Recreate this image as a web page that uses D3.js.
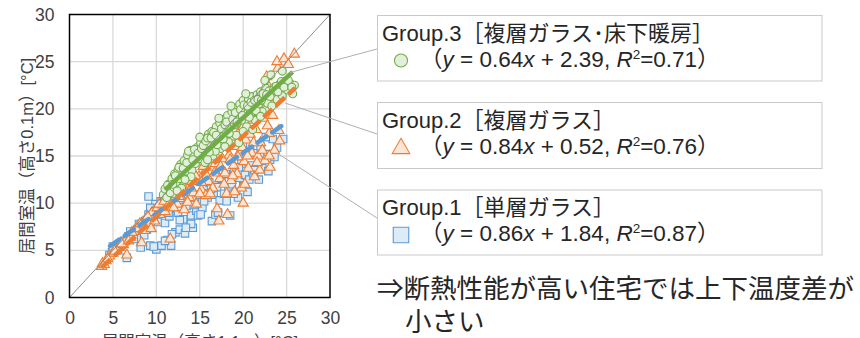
<!DOCTYPE html>
<html><head><meta charset="utf-8">
<script src="https://cdn.jsdelivr.net/npm/d3@7/dist/d3.min.js"></script>
<style>
body{margin:0;background:#fff;}
svg{display:block;}
text{font-family:"Liberation Sans","Noto Sans CJK JP",Arial,sans-serif;}
</style></head><body>
<svg id="c" width="860" height="338"></svg>
<script>
// ---- data ----
const xTicks = [0, 5, 10, 15, 20, 25, 30];
const yTicks = [0, 5, 10, 15, 20, 25, 30];
const group1 = [[4.6,4.5],[4.9,4.8],[5.3,5.2],[5.6,5.0],[6.0,5.6],[6.3,6.0],[6.6,4.2],[6.8,6.5],[7.2,6.8],[7.6,7.0],[7.9,6.3],[8.2,5.3],[8.3,7.6],[8.7,8.1],[8.9,7.2],[9.1,8.8],[9.3,5.5],[9.5,9.2],[9.1,10.7],[9.9,9.9],[10.0,5.1],[10.2,8.0],[10.5,10.2],[10.6,5.5],[10.8,9.3],[11.0,7.9],[11.3,6.1],[11.5,8.6],[11.7,5.5],[11.8,9.5],[11.9,12.2],[12.2,6.9],[12.4,12.9],[12.5,9.0],[12.7,7.2],[12.9,10.1],[13.1,8.3],[13.3,6.8],[13.5,9.7],[13.8,7.4],[14.0,8.7],[14.2,7.4],[14.4,10.4],[14.6,9.2],[14.8,8.7],[15.0,10.9],[15.3,9.5],[15.6,11.8],[15.9,10.6],[16.1,12.2],[16.4,8.1],[16.6,10.9],[16.8,8.8],[17.0,11.7],[17.3,10.3],[17.5,12.6],[17.8,11.0],[18.0,13.1],[18.3,11.4],[18.5,8.7],[18.7,12.0],[19.0,13.5],[19.2,11.2],[19.4,10.6],[19.6,12.7],[19.8,14.2],[20.0,11.8],[20.2,13.0],[20.4,15.1],[20.7,12.5],[21.0,14.0],[21.2,12.9],[21.5,15.3],[21.7,14.1],[22.0,16.0],[22.2,13.8],[22.4,15.0],[22.8,15.2],[23.1,14.6],[23.4,16.8],[23.9,15.9],[24.6,16.8],[22.6,17.0],[21.8,12.5],[20.8,16.2],[12.7,8.2],[11.8,6.7],[9.7,5.4],
  [5.0,5.4],[5.9,5.5],[7.0,7.0],[7.4,6.2],[8.0,7.8],[8.6,6.6],[9.3,9.5],[9.7,8.5],[10.3,9.2],[10.9,10.3],[11.4,9.0],[12.0,10.0],[12.8,9.6],[13.6,10.5],[14.3,9.8],[15.1,8.8],[15.5,10.2],[16.3,11.5],[17.1,9.0],[18.1,10.2],[18.9,11.0],[19.5,13.8],[20.5,11.2],[21.3,13.5],[22.1,14.5],[22.9,13.4],[23.6,14.9],[14.0,7.8],[13.4,7.4],[11.0,6.0]];
const group2 = [[3.7,3.3],[3.8,3.6],[4.2,3.9],[4.6,4.4],[5.0,4.7],[5.4,5.0],[5.8,5.3],[6.2,5.6],[6.5,6.2],[6.6,4.5],[7.0,6.4],[7.4,7.0],[7.9,7.6],[8.3,5.8],[8.5,8.0],[8.9,8.4],[9.2,7.7],[9.5,9.0],[9.8,8.1],[10.1,9.5],[10.4,8.8],[10.7,9.8],[11.0,9.1],[11.3,10.5],[11.6,6.2],[11.8,9.6],[12.1,10.9],[12.4,9.9],[12.7,11.4],[12.9,10.5],[13.2,9.3],[13.5,11.8],[13.8,10.6],[14.1,12.3],[14.3,11.1],[14.6,9.9],[14.9,12.8],[15.2,11.4],[15.5,13.2],[15.7,10.8],[16.0,12.3],[16.3,13.8],[16.5,11.6],[16.8,14.2],[17.0,9.4],[17.2,8.1],[17.3,12.6],[17.6,14.7],[17.9,13.2],[18.1,11.0],[18.2,8.8],[18.4,15.1],[18.6,12.4],[18.9,14.0],[19.1,16.0],[19.3,13.1],[19.6,15.4],[19.8,11.6],[20.0,10.0],[20.1,14.4],[20.3,16.7],[20.6,13.7],[20.8,17.3],[21.0,15.3],[21.3,12.8],[21.5,17.8],[21.7,15.0],[22.0,16.4],[22.3,19.0],[22.5,14.5],[22.7,23.4],[22.9,22.4],[23.0,17.4],[23.3,20.5],[23.6,15.6],[24.0,24.3],[23.9,25.0],[24.2,16.6],[24.3,22.5],[24.7,25.3],[25.2,24.7],[25.9,25.8],[19.5,17.5],[18.0,16.2],[16.9,15.0],[15.4,13.9],[21.1,18.8],[22.1,20.6],[20.2,12.0],[23.1,13.8],[21.9,13.5],
  [4.0,3.5],[4.4,4.1],[5.2,4.9],[6.0,5.7],[6.8,6.0],[7.2,6.9],[7.7,7.3],[8.1,7.8],[8.7,7.1],[9.0,8.6],[9.4,7.3],[10.3,9.9],[10.9,10.2],[11.5,10.0],[12.0,9.5],[12.6,10.7],[13.0,11.9],[13.6,10.1],[14.0,11.6],[14.5,12.9],[15.0,11.0],[15.8,12.9],[16.2,11.0],[16.7,13.2],[17.4,13.9],[17.8,12.0],[18.5,14.6],[18.8,12.9],[19.4,14.9],[19.9,15.9],[20.5,15.0],[21.2,16.4],[21.6,14.3],[22.2,15.6],[22.8,18.2],[23.4,19.3],[23.8,21.2],[24.1,17.7],[17.0,16.0],[18.6,17.0],[20.0,18.1],[21.6,19.6],[23.0,15.0],[19.0,11.2],[15.2,12.2]];
const group3 = [[10.8,10.9],[11.0,11.5],[11.2,10.6],[11.4,12.0],[11.6,11.1],[11.8,12.6],[12.0,11.7],[12.1,13.1],[12.3,12.2],[12.5,13.5],[12.7,12.6],[12.8,14.1],[13.0,13.0],[13.2,14.5],[13.4,13.4],[13.6,15.1],[13.8,14.0],[13.9,15.6],[14.1,13.5],[14.3,15.0],[14.5,14.2],[14.7,15.9],[14.9,14.7],[15.1,16.4],[15.3,15.2],[15.5,16.8],[15.6,14.3],[15.8,15.8],[16.0,17.3],[16.2,16.1],[16.4,17.6],[16.5,15.0],[16.7,16.6],[16.9,18.1],[17.1,16.9],[17.3,18.5],[17.4,15.8],[17.6,17.4],[17.8,18.9],[18.0,17.6],[18.2,19.3],[18.3,16.5],[18.5,18.1],[18.7,19.7],[18.9,20.1],[19.0,18.3],[19.2,17.2],[19.4,19.1],[19.6,20.5],[19.8,18.8],[20.0,20.9],[20.2,19.5],[20.4,18.1],[20.6,21.0],[20.8,19.9],[21.0,21.3],[21.2,20.2],[21.4,18.8],[21.6,21.5],[21.8,20.5],[22.0,21.8],[22.2,19.7],[22.4,21.1],[22.6,22.2],[22.8,20.6],[23.0,21.9],[23.3,20.3],[23.6,22.3],[23.9,21.0],[24.2,22.6],[24.5,21.4],[24.8,22.9],[25.1,22.0],[25.5,22.6],[25.7,21.6],[25.9,22.5],[14.0,12.8],[16.8,15.5],[19.5,16.4],[21.1,17.8],[12.9,11.6],[18.6,20.3],[17.2,19.0],[15.0,17.0],[22.5,23.0],[23.2,23.6],[20.3,21.6],[24.5,24.0],
  [11.3,11.9],[11.9,12.0],[12.2,12.9],[12.6,13.8],[13.1,13.7],[13.5,14.3],[13.7,15.5],[14.2,14.6],[14.4,15.7],[14.8,15.3],[15.2,15.8],[15.4,16.1],[15.7,16.6],[15.9,16.9],[16.1,15.4],[16.3,16.9],[16.6,17.5],[16.9,17.2],[17.0,16.2],[17.5,17.9],[17.7,16.8],[17.9,18.3],[18.1,18.6],[18.4,17.4],[18.8,18.9],[19.1,19.6],[19.3,18.6],[19.7,19.9],[19.9,19.3],[20.1,20.4],[20.5,20.3],[20.7,19.1],[20.9,20.7],[21.3,20.9],[21.5,19.8],[21.7,21.0],[22.1,20.9],[22.3,21.6],[22.7,21.5],[23.1,21.3],[23.5,22.0],[23.8,22.4],[24.0,21.8],[24.4,22.9],[24.7,22.3],[25.2,23.0],[25.6,22.3],[12.4,11.3],[13.3,12.5],[15.9,14.6],[17.9,16.0],[20.0,17.6],[22.0,19.2]];
// trendlines as drawn: slope, intercept, x-range
const trendSlope = [0.645, 0.855, 0.851];
const trendIntercept = [2.45, 0.0, 2.04];
const trendXStart = [4.67, 3.7, 11.0];
const trendXEnd = [24.4, 26.0, 25.7];
const legendTitles = ["Group.3［複層ガラス･床下暖房］", "Group.2［複層ガラス］", "Group.1［単層ガラス］"];
const legendSlopes = ["0.64", "0.84", "0.86"];
const legendIntercepts = ["2.39", "0.52", "1.84"];
const legendR2 = ["0.71", "0.76", "0.87"];
const xTitle = "居間室温（高さ1.1m）[°C]";
const yTitle = "居間室温（高さ0.1m）[°C]";
const note1 = "⇒断熱性能が高い住宅では上下温度差が";
const note2 = "小さい";

// ---- styles ----
const strokeCol = ["#5b9bd5", "#ed7d31", "#70ad47"];
const fillCol = ["#ddebf7", "#fbe5d6", "#e2efda"];
const symTypes = [d3.symbolSquare, d3.symbolTriangle, d3.symbolCircle];
const symSize = [56, 46, 50];

const svg = d3.select("#c");
const x = d3.scaleLinear().domain([0, 30]).range([69.5, 330]);
const y = d3.scaleLinear().domain([0, 30]).range([297.5, 14.5]);

// grid
svg.append("g").selectAll("line").data(xTicks.slice(1, -1)).join("line")
  .attr("x1", d => x(d)).attr("x2", d => x(d)).attr("y1", y(0)).attr("y2", y(30))
  .attr("stroke", "#d9d9d9").attr("stroke-width", 1.3);
svg.append("g").selectAll("line").data(yTicks.slice(1, -1)).join("line")
  .attr("y1", d => y(d)).attr("y2", d => y(d)).attr("x1", x(0)).attr("x2", x(30))
  .attr("stroke", "#d9d9d9").attr("stroke-width", 1.3);

// axes (labels only)
const xAxis = d3.axisBottom(x).tickValues(xTicks).tickSize(0).tickPadding(14);
const gx = svg.append("g").attr("transform", `translate(0,${y(0)})`).call(xAxis);
gx.select(".domain").remove();
gx.selectAll("text").attr("font-size", 17.5).attr("fill", "#404040")
  .attr("font-family", "Liberation Sans, Arial, sans-serif");
const yAxis = d3.axisLeft(y).tickValues(yTicks).tickSize(0).tickPadding(15);
const gy = svg.append("g").attr("transform", `translate(${x(0)},0)`).call(yAxis);
gy.select(".domain").remove();
gy.selectAll("text").attr("font-size", 17.5).attr("fill", "#404040")
  .attr("font-family", "Liberation Sans, Arial, sans-serif");

// markers
const groups = [group1, group2, group3];
groups.forEach((g, i) => {
  svg.append("g").selectAll("path").data(g).join("path")
    .attr("d", d3.symbol().type(symTypes[i]).size(symSize[i]))
    .attr("transform", d => `translate(${x(d[0])},${y(d[1])})`)
    .attr("fill", fillCol[i]).attr("stroke", strokeCol[i]).attr("stroke-width", 1.1);
});

// diagonal y = x
svg.append("line").attr("x1", x(0)).attr("y1", y(0)).attr("x2", x(30)).attr("y2", y(30))
  .attr("stroke", "#8c8c8c").attr("stroke-width", 1);

// trendlines
const dash = ["11 7", "12 5", null];
[0, 1, 2].forEach(i => {
  const l = svg.append("line")
    .attr("x1", x(trendXStart[i])).attr("y1", y(trendSlope[i] * trendXStart[i] + trendIntercept[i]))
    .attr("x2", x(trendXEnd[i])).attr("y2", y(trendSlope[i] * trendXEnd[i] + trendIntercept[i]))
    .attr("stroke", strokeCol[i]).attr("stroke-width", 4.5)
    .attr("stroke-linecap", i === 0 ? "round" : "butt");
  if (dash[i]) l.attr("stroke-dasharray", dash[i]);
});

// border
svg.append("rect").attr("x", x(0)).attr("y", y(30)).attr("width", x(30) - x(0)).attr("height", y(0) - y(30))
  .attr("fill", "none").attr("stroke", "#000").attr("stroke-width", 1.5);

// axis titles
svg.append("text").attr("x", 200).attr("y", 348).attr("text-anchor", "middle")
  .attr("font-size", 16.5).attr("fill", "#404040").text(xTitle);
svg.append("text").attr("transform", "translate(33,156) rotate(-90)").attr("text-anchor", "middle")
  .attr("font-size", 16.5).attr("fill", "#404040").text(yTitle);

// leader lines
const leaders = [[290, 72.5, 377, 49], [285, 103, 377, 134], [277, 153, 377, 218]];
svg.append("g").selectAll("line").data(leaders).join("line")
  .attr("x1", d => d[0]).attr("y1", d => d[1]).attr("x2", d => d[2]).attr("y2", d => d[3])
  .attr("stroke", "#b0b0b0").attr("stroke-width", 1);

// legend boxes
const boxTop = [15.5, 102.5, 190];
const boxH = [65.5, 66, 65];
const legOrder = [2, 1, 0];
boxTop.forEach((t, k) => {
  const s = legOrder[k];
  const g = svg.append("g");
  g.append("rect").attr("x", 377.5).attr("y", t).attr("width", 444.5).attr("height", boxH[k])
    .attr("fill", "#fff").attr("stroke", "#c9c9c9").attr("stroke-width", 1);
  g.append("text").attr("x", 382).attr("y", t + 25).attr("font-size", 22).attr("fill", "#262626")
    .text(legendTitles[k]);
  const big = [240, 135, 135];
  g.append("path").attr("d", d3.symbol().type(symTypes[s]).size(big[s]))
    .attr("transform", `translate(401,${t + 45 + (s === 1 ? 1 : 0)})`)
    .attr("fill", fillCol[s]).attr("stroke", strokeCol[s]).attr("stroke-width", 1.1);
  const tx = g.append("text").attr("x", 420).attr("y", t + 51).attr("font-size", 22.5).attr("fill", "#262626");
  tx.append("tspan").text("（");
  tx.append("tspan").attr("font-style", "italic").text("y");
  tx.append("tspan").text(` = ${legendSlopes[k]}`);
  tx.append("tspan").attr("font-style", "italic").text("x");
  tx.append("tspan").text(` + ${legendIntercepts[k]}, `);
  tx.append("tspan").attr("font-style", "italic").text("R");
  tx.append("tspan").attr("font-size", 13.5).attr("dy", -8).text("2");
  tx.append("tspan").attr("dy", 8).text(`=${legendR2[k]}`);
  tx.append("tspan").text("）");
});

// note
svg.append("text").attr("x", 377).attr("y", 298).attr("font-size", 26.5).attr("fill", "#262626").text(note1);
svg.append("text").attr("x", 405).attr("y", 331).attr("font-size", 26.5).attr("fill", "#262626").text(note2);
</script>
</body></html>
